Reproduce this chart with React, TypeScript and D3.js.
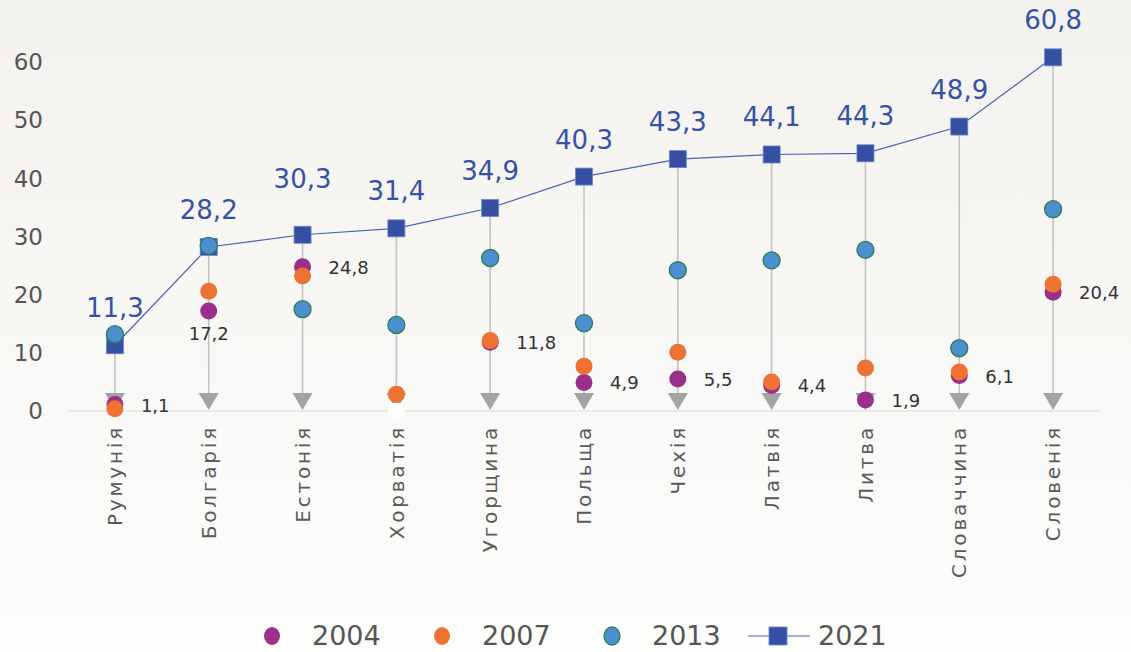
import * as d3 from "d3";
import { useEffect, useRef } from "react";

const countries = [
  "Румунія", "Болгарія", "Естонія", "Хорватія", "Угорщина", "Польща",
  "Чехія", "Латвія", "Литва", "Словаччина", "Словенія",
];
const values2004 = [1.1, 17.2, 24.8, 0, 11.8, 4.9, 5.5, 4.4, 1.9, 6.1, 20.4];
const values2007 = [0.4, 20.6, 23.2, 2.9, 12.1, 7.7, 10.1, 5.0, 7.4, 6.7, 21.8];
const values2013 = [13.2, 28.4, 17.5, 14.8, 26.3, 15.1, 24.2, 25.9, 27.7, 10.8, 34.7];
const values2021 = [11.3, 28.2, 30.3, 31.4, 34.9, 40.3, 43.3, 44.1, 44.3, 48.9, 60.8];
const yTicks = [0, 10, 20, 30, 40, 50, 60];
const legendYears = ["2004", "2007", "2013", "2021"];
// Croatia had no 2004 value, drawn as an empty white dot
const missing2004 = ["Хорватія"];

const W = 1131;
const H = 652;
const FONT = "'DejaVu Sans', sans-serif";
const PURPLE = "#9a2f8c";
const ORANGE = "#ee7231";
const BLUE = "#4b8fcf";
const NAVY = "#3550a2";

const fmt = (d: number) => d3.format(".1f")(d).replace(".", ",");

const App = () => {
  const svgRef = useRef<SVGSVGElement>(null);

  useEffect(() => {
    const svg = d3.select(svgRef.current);
    svg.selectAll("*").remove();

    // background
    const defs = svg.append("defs");
    const grad = defs
      .append("linearGradient")
      .attr("id", "bg")
      .attr("x1", 0).attr("y1", 0).attr("x2", 0).attr("y2", 1);
    grad.append("stop").attr("offset", "0%").attr("stop-color", "#f3f2ee");
    grad.append("stop").attr("offset", "100%").attr("stop-color", "#fdfdfc");
    svg.append("rect").attr("width", W).attr("height", H).attr("fill", "url(#bg)");

    const xScale = d3.scaleBand().domain(countries).range([68, 1100]).padding(0);
    const cx = (c: string) => (xScale(c) as number) + xScale.bandwidth() / 2;
    const yScale = d3.scaleLinear().domain([0, 60]).range([411, 62]);

    // y axis labels
    svg
      .append("g")
      .selectAll("text")
      .data(yTicks)
      .enter()
      .append("text")
      .attr("x", 43)
      .attr("y", (d) => yScale(d))
      .attr("dy", "0.36em")
      .attr("text-anchor", "end")
      .attr("font-family", FONT)
      .attr("font-size", 23)
      .attr("fill", "#555")
      .text((d) => d);

    // baseline
    svg
      .append("line")
      .attr("x1", 68).attr("x2", 1100)
      .attr("y1", yScale(0)).attr("y2", yScale(0))
      .attr("stroke", "#dcdcdc")
      .attr("stroke-width", 1.2);

    // drop lines from 2021 value down to arrow
    svg
      .append("g")
      .selectAll("line")
      .data(countries)
      .enter()
      .append("line")
      .attr("x1", (d) => cx(d)).attr("x2", (d) => cx(d))
      .attr("y1", (d, i) => yScale(values2021[i]))
      .attr("y2", yScale(0) - 12)
      .attr("stroke", "#c3c3c3")
      .attr("stroke-width", 1.6);

    svg
      .append("g")
      .selectAll("path")
      .data(countries)
      .enter()
      .append("path")
      .attr("d", (d) => {
        const x = cx(d);
        const y = yScale(0) - 1;
        return `M${x - 10},${y - 17}L${x + 10},${y - 17}L${x},${y}Z`;
      })
      .attr("fill", "#a3a3a3");

    // x axis category labels
    svg
      .append("g")
      .selectAll("text")
      .data(countries)
      .enter()
      .append("text")
      .attr("transform", (d) => `translate(${cx(d)},425) rotate(-90)`)
      .attr("dy", "0.36em")
      .attr("text-anchor", "end")
      .attr("font-family", FONT)
      .attr("font-size", 20)
      .attr("letter-spacing", 2.8)
      .attr("fill", "#5a5a5a")
      .text((d) => d);

    // 2021 line and squares
    const line = d3
      .line<number>()
      .x((d, i) => cx(countries[i]))
      .y((d) => yScale(d));
    svg
      .append("path")
      .datum(values2021)
      .attr("d", line)
      .attr("fill", "none")
      .attr("stroke", "#4a63b3")
      .attr("stroke-width", 1.2);

    svg
      .append("g")
      .selectAll("rect")
      .data(values2021)
      .enter()
      .append("rect")
      .attr("x", (d, i) => cx(countries[i]) - 8.5)
      .attr("y", (d) => yScale(d) - 8.5)
      .attr("width", 17)
      .attr("height", 17)
      .attr("fill", NAVY)
      .attr("stroke", "#7085cc")
      .attr("stroke-width", 0.8);

    // dot series
    const dots = (vals: number[], fill: string, stroke: string, missing: string[] = []) => {
      svg
        .append("g")
        .selectAll("circle")
        .data(vals)
        .enter()
        .append("circle")
        .attr("cx", (d, i) => cx(countries[i]))
        .attr("cy", (d) => yScale(d))
        .attr("r", 8.5)
        .attr("fill", (d, i) => (missing.includes(countries[i]) ? "#ffffff" : fill))
        .attr("stroke", (d, i) => (missing.includes(countries[i]) ? "none" : stroke))
        .attr("stroke-width", stroke === "none" ? 0 : 1.3);
    };
    dots(values2004, PURPLE, "none", missing2004);
    dots(values2007, ORANGE, "none");
    dots(values2013, BLUE, "#2d7d55");

    // 2021 value labels
    svg
      .append("g")
      .selectAll("text")
      .data(values2021)
      .enter()
      .append("text")
      .attr("x", (d, i) => cx(countries[i]))
      .attr("y", (d, i) => yScale(d) - (countries[i] === "Естонія" ? 47 : 28))
      .attr("text-anchor", "middle")
      .attr("font-family", FONT)
      .attr("font-size", 26)
      .attr("fill", "#3552a6")
      .text((d) => fmt(d));

    // 2004 value labels
    svg
      .append("g")
      .selectAll("text")
      .data(countries)
      .enter()
      .append("text")
      .attr("x", (d) => cx(d) + (d === "Болгарія" ? 0 : 26))
      .attr("y", (d, i) => yScale(values2004[i]) + (d === "Болгарія" ? 29 : 7))
      .attr("text-anchor", (d) => (d === "Болгарія" ? "middle" : "start"))
      .attr("font-family", FONT)
      .attr("font-size", 18)
      .attr("fill", "#333")
      .text((d, i) => (missing2004.includes(d) ? "" : fmt(values2004[i])));

    // legend
    const legend = svg.append("g").attr("transform", "translate(0,636)");
    const legendColors = [PURPLE, ORANGE, BLUE];
    const legendX = [272, 442, 612];
    legendYears.slice(0, 3).forEach((yr, i) => {
      legend
        .append("ellipse")
        .attr("cx", legendX[i])
        .attr("cy", 0)
        .attr("rx", 8)
        .attr("ry", 9)
        .attr("fill", legendColors[i])
        .attr("stroke", i === 2 ? "#2d7d55" : "none")
        .attr("stroke-width", 1.3);
      legend
        .append("text")
        .attr("x", legendX[i] + 40)
        .attr("y", 9)
        .attr("font-family", FONT)
        .attr("font-size", 27)
        .attr("fill", "#555")
        .text(yr);
    });
    legend
      .append("line")
      .attr("x1", 748).attr("x2", 810)
      .attr("y1", 0).attr("y2", 0)
      .attr("stroke", "#4a63b3")
      .attr("stroke-width", 1.2);
    legend
      .append("rect")
      .attr("x", 769).attr("y", -9)
      .attr("width", 18).attr("height", 18)
      .attr("fill", NAVY)
      .attr("stroke", "#7085cc")
      .attr("stroke-width", 0.8);
    legend
      .append("text")
      .attr("x", 818)
      .attr("y", 9)
      .attr("font-family", FONT)
      .attr("font-size", 27)
      .attr("fill", "#555")
      .text(legendYears[3]);
  }, []);

  return (
    <div style={{ position: "absolute", left: 0, top: 0 }}>
      <svg ref={svgRef} width={W} height={H} style={{ display: "block" }} />
    </div>
  );
};

export default App;
